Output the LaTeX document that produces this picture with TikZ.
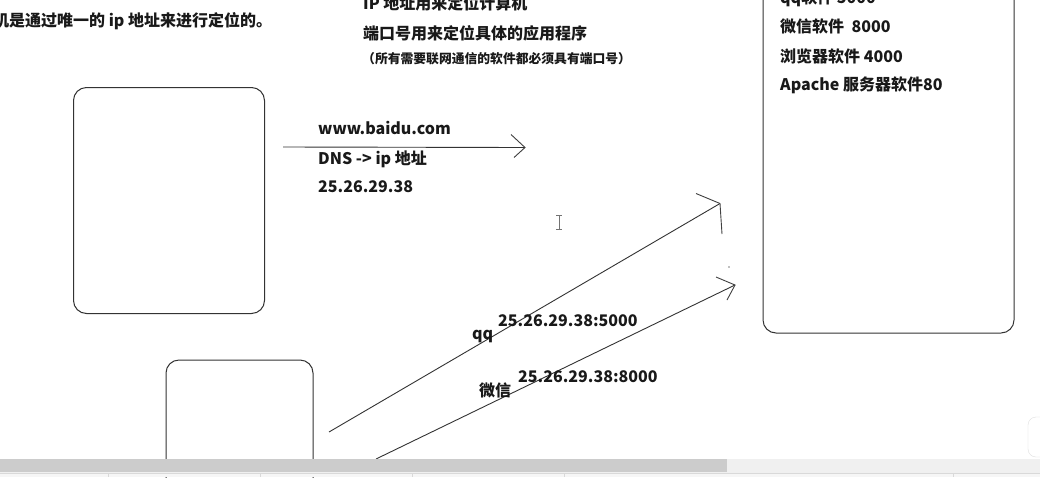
\documentclass[tikz,border=0pt]{standalone}
\usepackage{fontspec}
\newfontfamily\cjk{Noto Sans CJK SC}
\begin{document}
\begin{tikzpicture}[x=1pt,y=-1pt,
  txt/.style={anchor=base west, inner sep=0pt, font=\cjk\bfseries\fontsize{16}{19}\selectfont, text=black!90},
  small/.style={anchor=base west, inner sep=0pt, font=\cjk\bfseries\fontsize{12.8}{15}\selectfont, text=black!90},
  box/.style={draw=black!80, line width=1pt, rounded corners=13pt, inner sep=0pt},
  conn/.style={draw=black!80, line width=0.9pt},
  barb/.style={draw=black!75, line width=0.9pt}]
\useasboundingbox (0,0) rectangle (1040,477);
\clip (0,0) rectangle (1040,477);
\fill[white] (0,0) rectangle (1040,477);

% boxes
\node[box, minimum width=191pt, minimum height=226pt] (pcA) at (169,200.5) {};
\node[box, minimum width=147pt, minimum height=160pt] (pcB) at (239.5,440) {};
\node[box, minimum width=251pt, minimum height=373pt] (srv) at (888.5,146.5) {};

% top texts
\node[txt] (t1) at (-7,26) {机是通过唯一的 ip 地址来进行定位的。};
\node[txt] (t2) at (363,9) {IP 地址用来定位计算机};
\node[txt] (t3) at (363,39) {端口号用来定位具体的应用程序};
\node[small] (t4) at (362,63) {（所有需要联网通信的软件都必须具有端口号）};

% server box texts
\node[txt] (s1) at (780,3) {qq软件 5000};
\node[txt] (s2) at (780,32) {微信软件\ \ 8000};
\node[txt] (s3) at (780,62) {浏览器软件 4000};
\node[txt] (s4) at (780,90) {Apache 服务器软件80};

% DNS arrow
\coordinate (d0) at (283,147);
\coordinate (d1) at (525,147.5);
\coordinate (d1a) at (511,134.5);
\coordinate (d1b) at (514,157.5);
\draw[conn] (d0) -- (d1);
\draw[barb] (d1a) -- (d1) -- (d1b);
\node[txt] (w1) at (318,134) {www.baidu.com};
\node[txt] (w2) at (318,164) {DNS -> ip 地址};
\node[txt] (w3) at (318,192) {25.26.29.38};

% qq arrow
\coordinate (q0) at (329,432);
\coordinate (q1) at (720,203.5);
\coordinate (q1a) at (696,193.5);
\coordinate (q1b) at (722,234);
\draw[conn] (q0) -- (q1);
\draw[barb] (q1a) -- (q1) -- (q1b);
\fill[black!50] (729,267) circle (0.8);
\node[txt] (qlab) at (472,339) {qq};
\node[txt] (qadr) at (498,326) {25.26.29.38:5000};

% weixin arrow
\coordinate (x0) at (376,459);
\coordinate (x1) at (735,285);
\coordinate (x1a) at (716,277);
\coordinate (x1b) at (727,300);
\draw[conn] (x0) -- (x1);
\draw[barb] (x1a) -- (x1) -- (x1b);
\node[txt] (xlab) at (479,396) {微信};
\node[txt] (xadr) at (518,382) {25.26.29.38:8000};

% text cursor
\draw[black!55, line width=0.9pt] (559,215) -- (559,229);
\draw[black!55, line width=0.8pt] (556,215) -- (562,215) (556,229) -- (562,229);

% bottom-right widget
\draw[gray!25, fill=white, rounded corners=8pt] (1028,417) rectangle (1060,457);

% scrollbar
\fill[gray!12] (0,459) rectangle (1040,473);
\fill[gray!40] (0,459) rectangle (727,472);
\fill[gray!7] (0,473) rectangle (1040,477);
\draw[gray!30, line width=0.6pt] (0,473.3) -- (1040,473.3);
\foreach \sx in {108,260,412,564,953} \draw[gray!30, line width=0.6pt] (\sx,474) -- (\sx,477);
\end{tikzpicture}
\end{document}
